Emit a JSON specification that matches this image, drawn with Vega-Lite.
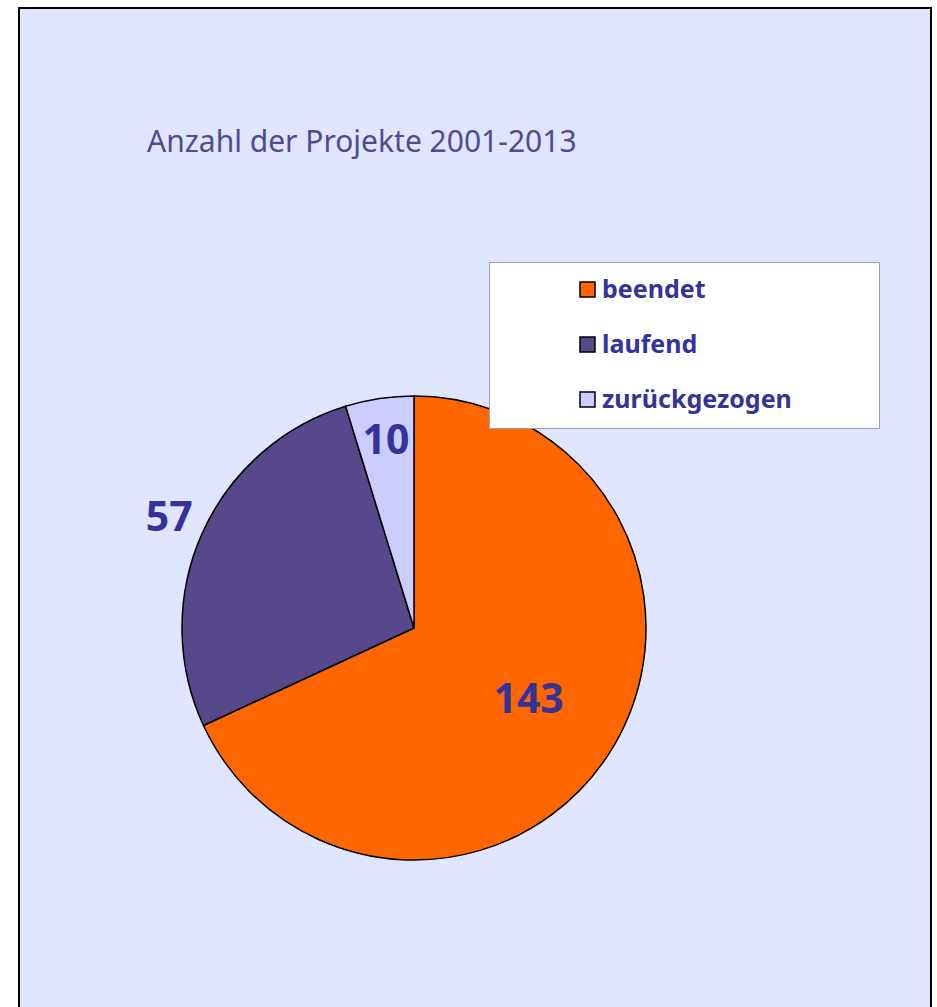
{
  "$schema": "https://vega.github.io/schema/vega-lite/v6.json",
  "width": 912,
  "height": 1001,
  "autosize": {"type": "none"},
  "padding": {"left": 19, "top": 8, "right": 6, "bottom": 0},
  "background": "white",
  "view": {"fill": "#E0E6FF", "stroke": "black", "strokeWidth": 2},
  "title": {
    "text": "Anzahl der Projekte 2001-2013",
    "anchor": "start",
    "frame": "group",
    "orient": "top",
    "offset": -174,
    "baseline": "alphabetic",
    "dx": 128,
    "font": "Noto Sans",
    "fontSize": 30,
    "fontWeight": "normal",
    "color": "#524A8E"
  },
  "data": {
    "values": [
      {"status": "beendet", "n": 143},
      {"status": "laufend", "n": 57},
      {"status": "zurückgezogen", "n": 10}
    ]
  },
  "encoding": {
    "theta": {"field": "n", "type": "quantitative", "stack": true},
    "order": {"field": "status", "type": "ordinal", "sort": "ascending"},
    "color": {
      "field": "status",
      "type": "nominal",
      "scale": {
        "domain": ["beendet", "laufend", "zurückgezogen"],
        "range": ["#FF6600", "#56488A", "#CCCCFF"]
      },
      "legend": {
        "title": null,
        "orient": "none",
        "legendX": 470,
        "legendY": 254,
        "fillColor": "white",
        "strokeColor": "#A0A0B0",
        "padding": 15,
        "symbolType": "square",
        "symbolSize": 225,
        "symbolStrokeColor": "black",
        "symbolStrokeWidth": 1.5,
        "symbolOffset": 71,
        "labelFont": "Noto Sans",
        "labelFontSize": 25,
        "labelFontWeight": "bold",
        "labelColor": "#333399",
        "labelOffset": 2,
        "labelLimit": 500,
        "rowPadding": 29,
        "labelExpr": "datum.label + '\u2800\u2800\u2800\u2800'"
      }
    }
  },
  "layer": [
    {
      "mark": {
        "type": "arc",
        "outerRadius": 232,
        "stroke": "black",
        "strokeWidth": 1.5,
        "xOffset": -61,
        "yOffset": 119.5
      }
    },
    {
      "mark": {
        "type": "text",
        "font": "Noto Sans",
        "fontSize": 41,
        "fontWeight": "bold",
        "align": "center",
        "baseline": "middle",
        "xOffset": -61,
        "yOffset": 119.5
      },
      "encoding": {
        "text": {"field": "n", "type": "quantitative"},
        "color": {"value": "#333399"},
        "detail": {"field": "status", "type": "nominal"},
        "radius": {
          "field": "n",
          "type": "quantitative",
          "scale": {"type": "linear", "domain": [10, 57, 143], "range": [188, 268, 136], "zero": false, "nice": false}
        }
      }
    }
  ]
}
